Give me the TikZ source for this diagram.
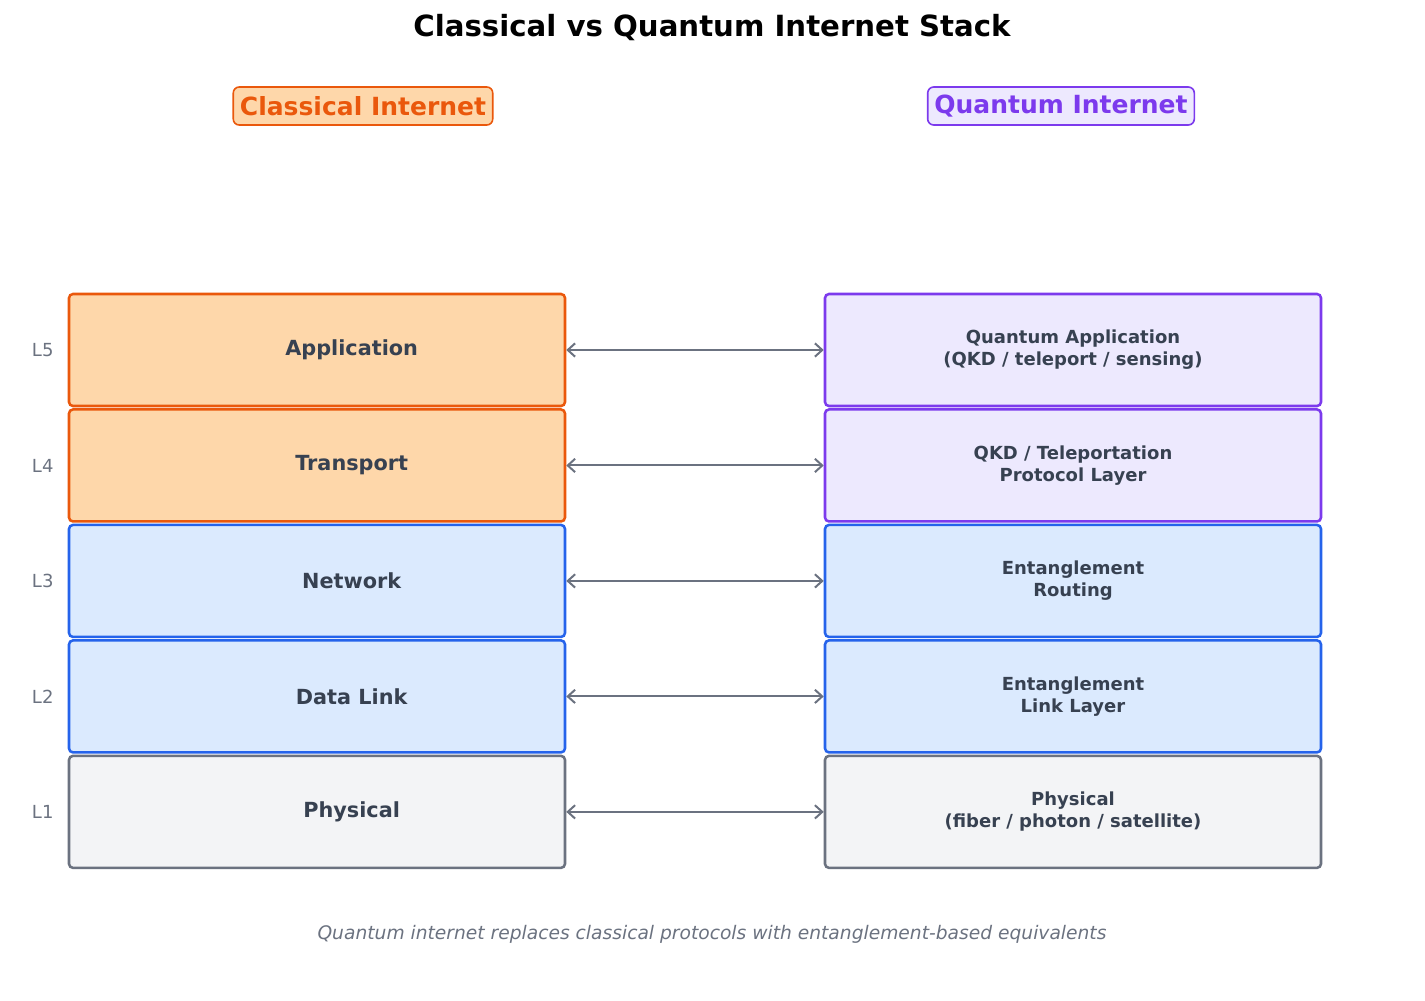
\documentclass[tikz,border=0pt]{standalone}
\usepackage{fontspec}
\setmainfont{DejaVu Sans}
\usepackage{tikz}
\usetikzlibrary{positioning, arrows.meta}
\usepackage{xcolor}
\definecolor{orgline}{HTML}{EA580C}
\definecolor{orgfill}{HTML}{FED7AA}
\definecolor{bluline}{HTML}{2563EB}
\definecolor{blufill}{HTML}{DBEAFE}
\definecolor{purline}{HTML}{7C3AED}
\definecolor{purfill}{HTML}{EDE9FE}
\definecolor{gryline}{HTML}{6B7280}
\definecolor{gryfill}{HTML}{F3F4F6}
\definecolor{txtdark}{HTML}{374151}
\tikzset{
	layerbox/.style={rectangle, rounded corners=3pt, line width=1.9pt,
		minimum width=372pt, minimum height=84pt, inner sep=0pt},
	orgbox/.style={layerbox, draw=orgline, fill=orgfill},
	blubox/.style={layerbox, draw=bluline, fill=blufill},
	purbox/.style={layerbox, draw=purline, fill=purfill},
	grybox/.style={layerbox, draw=gryline, fill=gryfill},
	lyrtext/.style={font=\fontsize{15.6}{18}\selectfont\bfseries, text=txtdark},
	qtext/.style={font=\fontsize{13.5}{16.5}\selectfont\bfseries, text=txtdark,
		align=center},
	lvl/.style={font=\fontsize{13.5}{16}\selectfont, text=gryline},
	headbox/.style={rectangle, rounded corners=4.5pt, line width=1.2pt,
		minimum height=28.5pt, inner xsep=5pt,
		font=\fontsize{18.75}{22}\selectfont\bfseries},
	twoway/.style={{Straight Barb[length=5.5pt,width=10pt]}-{Straight Barb[length=5.5pt,width=10pt]},
		line width=1.5pt, draw=gryline}
}
\begin{document}
\begin{tikzpicture}[x=0.75pt, y=-0.75pt, node distance=0.7pt]
	\useasboundingbox (0,0) rectangle (1425,1000);
	
	%% title and column heads
	\node[font=\fontsize{21.9}{26}\selectfont\bfseries] (title) at (712,28)
	{Classical vs Quantum Internet Stack};
	\node[headbox, draw=orgline, fill=orgfill, text=orgline] (chead) at (363,106)
	{Classical Internet};
	\node[headbox, draw=purline, fill=purfill, text=purline] (qhead) at (1061,106)
	{Quantum Internet};
	
	%% classical stack
	\node[orgbox] (c5) at (317,350) {};
	\node[orgbox, below=of c5] (c4) {};
	\node[blubox, below=of c4] (c3) {};
	\node[blubox, below=of c3] (c2) {};
	\node[grybox, below=of c2] (c1) {};
	
	\node[lyrtext] (c5t) at ([xshift=26pt]c5.center) {Application};
	\node[lyrtext] (c4t) at ([xshift=26pt]c4.center) {Transport};
	\node[lyrtext] (c3t) at ([xshift=26pt]c3.center) {Network};
	\node[lyrtext] (c2t) at ([xshift=26pt]c2.center) {Data Link};
	\node[lyrtext] (c1t) at ([xshift=26pt]c1.center) {Physical};
	
	%% quantum stack
	\node[purbox] (q5) at (1073,350) {};
	\node[purbox, below=of q5] (q4) {};
	\node[blubox, below=of q4] (q3) {};
	\node[blubox, below=of q3] (q2) {};
	\node[grybox, below=of q2] (q1) {};
	
	\node[qtext] (q5t) at (q5) {Quantum Application\\(QKD / teleport / sensing)};
	\node[qtext] (q4t) at (q4) {QKD / Teleportation\\Protocol Layer};
	\node[qtext] (q3t) at (q3) {Entanglement\\Routing};
	\node[qtext] (q2t) at (q2) {Entanglement\\Link Layer};
	\node[qtext] (q1t) at (q1) {Physical\\(fiber / photon / satellite)};
	
	%% layer numbers
	\node[lvl] (l5) at ([xshift=-18.75pt]c5.west) {L5};
	\node[lvl] (l4) at ([xshift=-18.75pt]c4.west) {L4};
	\node[lvl] (l3) at ([xshift=-18.75pt]c3.west) {L3};
	\node[lvl] (l2) at ([xshift=-18.75pt]c2.west) {L2};
	\node[lvl] (l1) at ([xshift=-18.75pt]c1.west) {L1};
	
	%% correspondences
	\draw[twoway] (c5.east) -- (q5.west);
	\draw[twoway] (c4.east) -- (q4.west);
	\draw[twoway] (c3.east) -- (q3.west);
	\draw[twoway] (c2.east) -- (q2.west);
	\draw[twoway] (c1.east) -- (q1.west);
	
	%% footnote
	\node[font=\fontsize{14}{17}\selectfont\itshape, text=gryline] (note) at (712,934)
	{Quantum internet replaces classical protocols with entanglement-based equivalents};
	
\end{tikzpicture}
\end{document}
